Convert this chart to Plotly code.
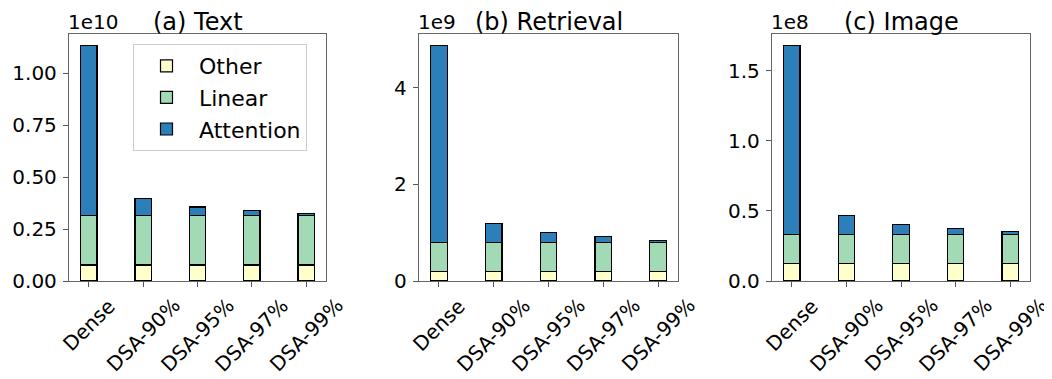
import plotly.graph_objects as go

categories = ["Dense", "DSA-90%", "DSA-95%", "DSA-97%", "DSA-99%"]

# Panel (a) Text  (units of 1e10)
text_other = [0.077e10, 0.077e10, 0.077e10, 0.077e10, 0.077e10]
text_linear = [0.237e10, 0.237e10, 0.237e10, 0.237e10, 0.237e10]
text_attention = [0.818e10, 0.082e10, 0.042e10, 0.026e10, 0.010e10]

# Panel (b) Retrieval (units of 1e9)
retr_other = [0.205e9, 0.205e9, 0.205e9, 0.205e9, 0.205e9]
retr_linear = [0.585e9, 0.585e9, 0.585e9, 0.585e9, 0.585e9]
retr_attention = [4.085e9, 0.41e9, 0.21e9, 0.125e9, 0.055e9]

# Panel (c) Image (units of 1e8)
img_other = [0.127e8, 0.127e8, 0.127e8, 0.127e8, 0.127e8]
img_linear = [0.207e8, 0.207e8, 0.207e8, 0.207e8, 0.207e8]
img_attention = [1.344e8, 0.134e8, 0.069e8, 0.041e8, 0.017e8]

titles = ["(a) Text", "(b) Retrieval", "(c) Image"]
offset_labels = ["1e10", "1e9", "1e8"]

text_ticks = [0, 0.25e10, 0.5e10, 0.75e10, 1.0e10]
text_ticklabels = ["0.00", "0.25", "0.50", "0.75", "1.00"]
retr_ticks = [0, 2e9, 4e9]
retr_ticklabels = ["0", "2", "4"]
img_ticks = [0, 0.5e8, 1.0e8, 1.5e8]
img_ticklabels = ["0.0", "0.5", "1.0", "1.5"]

series_names = ["Other", "Linear", "Attention"]
colors = ["#ffffcc", "#a1dab4", "#2c7fb8"]

panels = [
    (text_other, text_linear, text_attention, text_ticks, text_ticklabels),
    (retr_other, retr_linear, retr_attention, retr_ticks, retr_ticklabels),
    (img_other, img_linear, img_attention, img_ticks, img_ticklabels),
]

# page body has an 8px margin; figure covers the visible remainder
OFF = 8
W, H = 1052 - OFF, 379 - OFF
x_px = [(69 - OFF, 326 - OFF), (419 - OFF, 678 - OFF), (772 - OFF, 1030 - OFF)]
y_top, y_bot = 34 - OFF, 281 - OFF
ydom = [(H - y_bot) / H, (H - y_top) / H]

FONT = "DejaVu Sans"
TICK_SIZE = 20
fig = go.Figure()
annotations = []
for i, (oth, lin, att, ticks, ticklabels) in enumerate(panels):
    xa = "x" if i == 0 else f"x{i+1}"
    ya = "y" if i == 0 else f"y{i+1}"
    for name, vals, col in zip(series_names, [oth, lin, att], colors):
        fig.add_trace(go.Bar(
            x=list(range(len(categories))), y=vals, name=name,
            marker=dict(color=col, line=dict(color="black", width=1.2)),
            width=0.3, xaxis=xa, yaxis=ya, showlegend=(i == 0),
            legendgroup=name,
        ))
    tot_max = max(o + l + a for o, l, a in zip(oth, lin, att))
    axx = dict(
        domain=[x_px[i][0] / W, x_px[i][1] / W], anchor=ya,
        range=[-0.365, 4.365], tickmode="array",
        tickvals=list(range(len(categories))), ticktext=[""] * len(categories),
        ticks="outside", ticklen=5, tickcolor="#555",
        showline=True, linecolor="#666", linewidth=1.3, mirror=True,
        showgrid=False, zeroline=False, automargin=False,
        tickfont=dict(family=FONT, size=TICK_SIZE, color="black"),
    )
    axy = dict(
        domain=ydom, anchor=xa, range=[0, tot_max * 1.05],
        tickmode="array", tickvals=ticks, ticktext=ticklabels,
        ticks="outside", ticklen=5, tickcolor="#555",
        showline=True, linecolor="#666", linewidth=1.3, mirror=True,
        showgrid=False, zeroline=False, ticklabelstandoff=2, automargin=False,
        tickfont=dict(family=FONT, size=TICK_SIZE, color="black"),
    )
    fig.layout[("xaxis" if i == 0 else f"xaxis{i+1}")] = axx
    fig.layout[("yaxis" if i == 0 else f"yaxis{i+1}")] = axy
    # rotated, centred category labels (matplotlib style)
    for k, cat in enumerate(categories):
        annotations.append(dict(
            text=cat, x=k, xref=xa, y=(H - (y_bot + 10)) / H, yref="paper",
            showarrow=False, textangle=-45, xanchor="center", yanchor="top",
            font=dict(family=FONT, size=TICK_SIZE, color="black"),
        ))
    annotations.append(dict(
        text=titles[i], x=(x_px[i][0] + x_px[i][1]) / 2 / W, y=(H - 14) / H,
        xref="paper", yref="paper", showarrow=False, xanchor="center", yanchor="middle",
        borderpad=0, font=dict(family=FONT, size=24, color="black"),
    ))
    annotations.append(dict(
        text=offset_labels[i], x=(x_px[i][0] - 2) / W, y=(H - 14) / H,
        xref="paper", yref="paper", showarrow=False, xanchor="left", yanchor="middle",
        borderpad=0, font=dict(family=FONT, size=TICK_SIZE, color="black"),
    ))

fig.update_layout(
    width=W, height=H, barmode="stack",
    margin=dict(l=0, r=0, t=0, b=0),
    paper_bgcolor="white", plot_bgcolor="white",
    annotations=annotations,
    legend=dict(
        x=(133 - OFF) / W, y=(H - (44 - OFF)) / H, xanchor="left", yanchor="top",
        traceorder="normal", tracegroupgap=4,
        bordercolor="#cccccc", borderwidth=1, bgcolor="rgba(255,255,255,0.8)",
        font=dict(family=FONT, size=22, color="black"),
        itemwidth=55,
    ),
    font=dict(family=FONT),
)

fig.write_html("out.html")
